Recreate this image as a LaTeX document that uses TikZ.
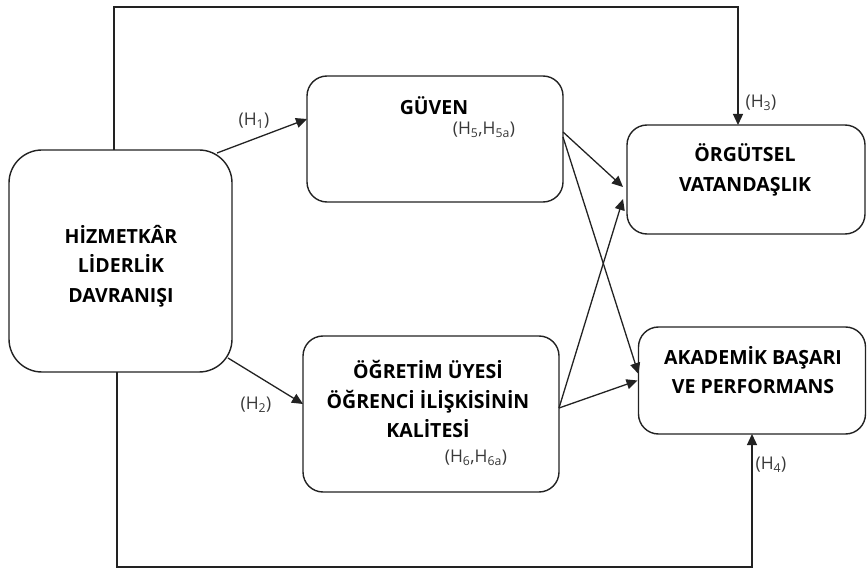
\documentclass[tikz,border=0pt]{standalone}
\usepackage{fontspec}
\setmainfont{Open Sans}
\usetikzlibrary{arrows.meta}
\definecolor{linec}{HTML}{222222}
\definecolor{lblc}{HTML}{383838}
\tikzset{
 box/.style={draw=linec, line width=1.4pt, rounded corners=20pt, inner sep=0pt, outer sep=0pt},
 ttl/.style={font=\bfseries\fontsize{19.5}{29.5}\selectfont, align=center, inner sep=0pt, text=black},
 lbl/.style={font=\fontsize{17.5}{19}\selectfont, text=lblc, inner sep=0pt},
 conn/.style={draw=linec, line width=1.3pt, -{Triangle[length=11pt,width=10pt]}},
}
\begin{document}
\begin{tikzpicture}[x=1pt,y=-1pt]
\useasboundingbox (0,0) rectangle (867,569);
% boxes
\node[box, rounded corners=33pt, minimum width=223pt, minimum height=222pt] (hiz) at (120.5,261) {};
\node[box, minimum width=256pt, minimum height=126pt] (guv) at (435,139) {};
\node[box, minimum width=238pt, minimum height=109pt] (org) at (746,179.5) {};
\node[box, minimum width=256pt, minimum height=156pt] (ogr) at (431,414) {};
\node[box, minimum width=227pt, minimum height=107pt] (aka) at (752,380.5) {};
% titles
\node[ttl] (hizt) at (121,266) {HİZMETKÂR\\LİDERLİK\\DAVRANIŞI};
\node[ttl] (guvt) at (434,106) {GÜVEN};
\node[ttl] (orgt) at (745,170) {ÖRGÜTSEL\\VATANDAŞLIK};
\node[ttl] (ogrt) at (428,399) {ÖĞRETİM ÜYESİ\\ÖĞRENCİ İLİŞKİSİNİN\\KALİTESİ};
\node[ttl] (akat) at (753,370) {AKADEMİK BAŞARI\\VE PERFORMANS};
% labels
\node[lbl] (h1) at (254,121) {(H\textsubscript{1})};
\node[lbl] (h2) at (256,405) {(H\textsubscript{2})};
\node[lbl] (h3) at (761,103) {(H\textsubscript{3})};
\node[lbl] (h4) at (771,465) {(H\textsubscript{4})};
\node[lbl] (h5) at (484,130) {(H\textsubscript{5},H\textsubscript{5a})};
\node[lbl] (h6) at (476,458) {(H\textsubscript{6},H\textsubscript{6a})};
% route coordinates
\coordinate (t1) at (114,7);
\coordinate (t2) at (738,7);
\coordinate (b1) at (117,567);
\coordinate (b2) at (752,567);
% connectors
\draw[conn] ([xshift=-15pt,yshift=-3pt]hiz.north east) -- ([yshift=20pt]guv.west);
\draw[conn] ([xshift=-4pt,yshift=14pt]hiz.south east) -- ([yshift=10pt]ogr.west);
\draw[conn] ([xshift=-6.5pt]hiz.north) -- (t1) -- (t2) -- ([xshift=-8pt]org.north);
\draw[conn] ([xshift=-3.5pt]hiz.south) -- (b1) -- (b2) -- (aka.south);
\draw[conn] ([yshift=7pt]guv.east) -- ([xshift=-4pt,yshift=-7.5pt]org.west);
\draw[conn] ([yshift=2pt]guv.east) -- ([yshift=6.5pt]aka.west);
\draw[conn] ([yshift=6pt]ogr.east) -- ([xshift=-1pt]aka.west);
\draw[conn] ([yshift=6pt]ogr.east) -- ([xshift=-4pt,yshift=-19.5pt]org.west);
\end{tikzpicture}
\end{document}
